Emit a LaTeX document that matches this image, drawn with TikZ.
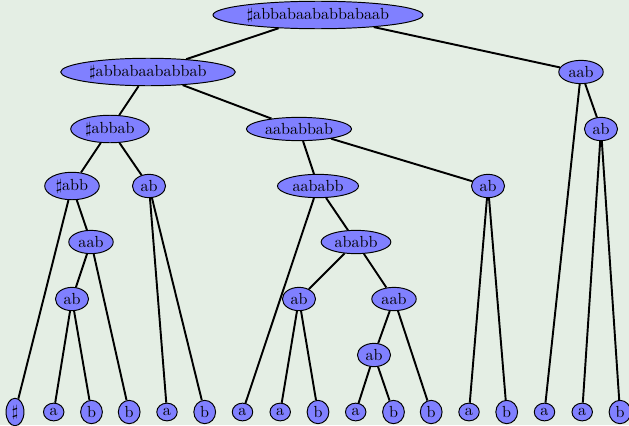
\documentclass[tikz,border=0pt]{standalone}
\usetikzlibrary{shapes.geometric}
\definecolor{bgc}{RGB}{228,238,228}
\definecolor{nodefill}{RGB}{128,128,255}
\begin{document}
\begin{tikzpicture}[x=0.622pt,y=-0.622pt,
  tn/.style={ellipse,draw=black,line width=0.6pt,fill=nodefill,inner xsep=2pt,inner ysep=1.6pt},
  edge/.style={line width=1.2pt}]
\fill[bgc] (0,0) rectangle (629,425);
\useasboundingbox (0,0) rectangle (629,425);
% internal nodes
\node[tn] (r) at (318,15) {$\sharp$abbabaababbabaab};
\node[tn] (n1) at (148,72) {$\sharp$abbabaababbab};
\node[tn] (n2) at (581,72) {aab};
\node[tn] (n3) at (110,129) {$\sharp$abbab};
\node[tn] (n4) at (299,129) {aababbab};
\node[tn] (n5) at (601,129) {ab};
\node[tn] (n6) at (72,186) {$\sharp$abb};
\node[tn] (n7) at (149,186) {ab};
\node[tn] (n8) at (318,186) {aababb};
\node[tn] (n9) at (488,186) {ab};
\node[tn] (n10) at (91,242) {aab};
\node[tn] (n11) at (356,242) {ababb};
\node[tn] (n12) at (72,299) {ab};
\node[tn] (n13) at (299,299) {ab};
\node[tn] (n14) at (394,299) {aab};
\node[tn] (n15) at (374,355) {ab};
% leaves
\node[tn] (l1) at (15,412) {$\sharp$};
\node[tn] (l2) at (53.7,412) {a};
\node[tn] (l3) at (91.5,412) {b};
\node[tn] (l4) at (129.2,412) {b};
\node[tn] (l5) at (167,412) {a};
\node[tn] (l6) at (204.7,412) {b};
\node[tn] (l7) at (242.5,412) {a};
\node[tn] (l8) at (280.2,412) {a};
\node[tn] (l9) at (318,412) {b};
\node[tn] (l10) at (355.7,412) {a};
\node[tn] (l11) at (393.5,412) {b};
\node[tn] (l12) at (431.2,412) {b};
\node[tn] (l13) at (469,412) {a};
\node[tn] (l14) at (506.7,412) {b};
\node[tn] (l15) at (544.5,412) {a};
\node[tn] (l16) at (582.2,412) {a};
\node[tn] (l17) at (620,412) {b};
% edges
\draw[edge] (r) -- (n1);
\draw[edge] (r) -- (n2);
\draw[edge] (n1) -- (n3);
\draw[edge] (n1) -- (n4);
\draw[edge] (n2) -- (l15);
\draw[edge] (n2) -- (n5);
\draw[edge] (n5) -- (l16);
\draw[edge] (n5) -- (l17);
\draw[edge] (n3) -- (n6);
\draw[edge] (n3) -- (n7);
\draw[edge] (n6) -- (l1);
\draw[edge] (n6) -- (n10);
\draw[edge] (n10) -- (n12);
\draw[edge] (n10) -- (l4);
\draw[edge] (n12) -- (l2);
\draw[edge] (n12) -- (l3);
\draw[edge] (n7) -- (l5);
\draw[edge] (n7) -- (l6);
\draw[edge] (n4) -- (n8);
\draw[edge] (n4) -- (n9);
\draw[edge] (n8) -- (l7);
\draw[edge] (n8) -- (n11);
\draw[edge] (n11) -- (n13);
\draw[edge] (n11) -- (n14);
\draw[edge] (n13) -- (l8);
\draw[edge] (n13) -- (l9);
\draw[edge] (n14) -- (n15);
\draw[edge] (n14) -- (l12);
\draw[edge] (n15) -- (l10);
\draw[edge] (n15) -- (l11);
\draw[edge] (n9) -- (l13);
\draw[edge] (n9) -- (l14);
\end{tikzpicture}
\end{document}
